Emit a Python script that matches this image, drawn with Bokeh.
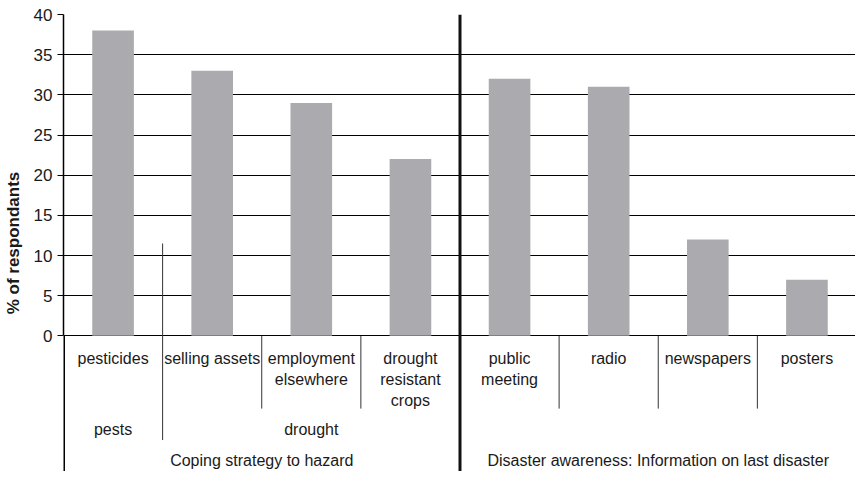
from bokeh.plotting import figure
from bokeh.models import Range1d, FixedTicker, ColumnDataSource
from bokeh.core.properties import value
from bokeh.embed import file_html
from bokeh.resources import INLINE

categories = ["pesticides", "selling assets", "employment\nelsewhere", "drought\nresistant\ncrops",
              "public\nmeeting", "radio", "newspapers", "posters"]
values = [38, 33, 29, 22, 32, 31, 12, 7]
hazards = ["pests", "drought"]
groups = ["Coping strategy to hazard", "Disaster awareness: Information on last disaster"]
y_ticks = [0, 5, 10, 15, 20, 25, 30, 35, 40]

FONT = "Liberation Sans"
TXT = "#1a1a1a"
PX = 327 / 40.0  # reference pixels per unit

def dy(px):
    return -px / PX

W, H = 855, 471
p = figure(width=W, height=H, output_backend="svg", toolbar_location=None,
           x_range=Range1d(0, 7.99), y_range=Range1d(dy(138), 40),
           min_border_left=63, min_border_right=0, min_border_top=14, min_border_bottom=0)
p.outline_line_color = None
p.background_fill_color = "white"
p.xaxis.visible = False
p.xgrid.visible = False
p.ygrid.ticker = FixedTicker(ticks=y_ticks)
p.ygrid.grid_line_color = "black"
p.ygrid.grid_line_width = 1
p.yaxis.ticker = FixedTicker(ticks=y_ticks)
p.yaxis.bounds = (0, 40)
p.yaxis.axis_line_color = "black"
p.yaxis.axis_line_width = 1.5
p.yaxis.major_tick_line_color = "black"
p.yaxis.major_tick_out = 6
p.yaxis.major_tick_in = 0
p.yaxis.minor_tick_line_color = None
p.yaxis.major_label_text_font = FONT
p.yaxis.major_label_text_font_size = "17px"
p.yaxis.major_label_text_color = TXT
p.yaxis.major_label_standoff = 5
p.yaxis.axis_label = "% of respondants"
p.yaxis.axis_label_text_font = FONT
p.yaxis.axis_label_text_font_size = "17px"
p.yaxis.axis_label_text_font_style = "bold"
p.yaxis.axis_label_text_color = TXT
p.yaxis.axis_label_standoff = 8

xc = [i + 0.5 for i in range(len(categories))]
src = ColumnDataSource(dict(x=xc, top=values, label=categories))
p.vbar(x="x", top="top", width=0.42, source=src, fill_color="#ababaf", line_color=None)

# continuation of the left axis line below zero
p.segment(x0=[0], y0=[0], x1=[0], y1=[dy(138)], line_color="black", line_width=3)

# separators
p.segment(x0=[2, 3, 5, 6, 7], y0=[0] * 5, x1=[2, 3, 5, 6, 7], y1=[dy(74)] * 5,
          line_color="#333333", line_width=1)
p.segment(x0=[1], y0=[11.5], x1=[1], y1=[dy(106)], line_color="#333333", line_width=1)
p.segment(x0=[4], y0=[40], x1=[4], y1=[dy(138)], line_color="#111111", line_width=3)

p.text(x="x", y=dy(14), text="label", source=src, text_font=value(FONT),
       text_font_size="16px", text_align="center", text_baseline="top",
       text_color=TXT, text_line_height=1.25)

p.text(x=[0.5, 2.5], y=[dy(95)] * 2, text=hazards, text_font=value(FONT),
       text_font_size="16px", text_align="center", text_baseline="middle", text_color=TXT)
p.text(x=[2.0, 6.0], y=[dy(127)] * 2, text=groups, text_font=value(FONT),
       text_font_size="16px", text_align="center", text_baseline="middle", text_color=TXT)

open("out.html", "w").write(file_html(p, INLINE))
